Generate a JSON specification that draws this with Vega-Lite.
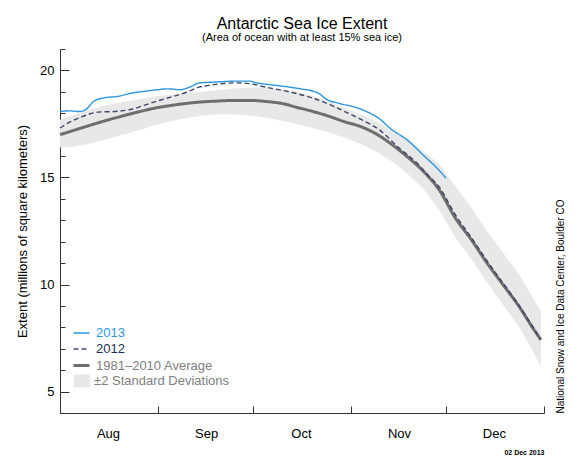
{
  "$schema": "https://vega.github.io/schema/vega-lite/v6.json",
  "width": 484,
  "height": 364,
  "padding": {"left": 16, "top": 15, "right": 5, "bottom": 5},
  "background": "white",
  "config": {
    "view": {"stroke": null},
    "font": "Liberation Sans",
    "axis": {"grid": false}
  },
  "title": {
    "text": "Antarctic Sea Ice Extent",
    "subtitle": "(Area of ocean with at least 15% sea ice)",
    "fontSize": 16,
    "fontWeight": "normal",
    "color": "black",
    "subtitleFontSize": 11,
    "subtitleColor": "black",
    "subtitlePadding": 0,
    "offset": 6,
    "anchor": "middle"
  },
  "datasets": {
    "band": [
      {"date": "2013-08-01", "lo": 16.4, "hi": 17.7},
      {"date": "2013-08-06", "lo": 16.45, "hi": 17.95},
      {"date": "2013-08-11", "lo": 16.6, "hi": 18.2},
      {"date": "2013-08-16", "lo": 16.8, "hi": 18.38},
      {"date": "2013-08-21", "lo": 17.0, "hi": 18.52},
      {"date": "2013-08-26", "lo": 17.2, "hi": 18.65},
      {"date": "2013-08-31", "lo": 17.45, "hi": 18.78},
      {"date": "2013-09-05", "lo": 17.62, "hi": 18.86},
      {"date": "2013-09-10", "lo": 17.78, "hi": 18.93},
      {"date": "2013-09-15", "lo": 17.9, "hi": 19.0},
      {"date": "2013-09-20", "lo": 17.95, "hi": 19.08},
      {"date": "2013-09-25", "lo": 17.95, "hi": 19.15},
      {"date": "2013-09-30", "lo": 17.9, "hi": 19.2},
      {"date": "2013-10-05", "lo": 17.8, "hi": 19.2},
      {"date": "2013-10-10", "lo": 17.65, "hi": 19.12},
      {"date": "2013-10-15", "lo": 17.5, "hi": 19.0},
      {"date": "2013-10-20", "lo": 17.3, "hi": 18.8},
      {"date": "2013-10-25", "lo": 17.1, "hi": 18.55},
      {"date": "2013-10-30", "lo": 16.85, "hi": 18.25},
      {"date": "2013-11-04", "lo": 16.56, "hi": 17.95},
      {"date": "2013-11-09", "lo": 16.2, "hi": 17.6},
      {"date": "2013-11-14", "lo": 15.75, "hi": 17.2},
      {"date": "2013-11-19", "lo": 15.15, "hi": 16.8},
      {"date": "2013-11-24", "lo": 14.45, "hi": 16.2},
      {"date": "2013-11-29", "lo": 13.45, "hi": 15.6},
      {"date": "2013-12-04", "lo": 12.2, "hi": 14.6},
      {"date": "2013-12-09", "lo": 11.2, "hi": 13.6},
      {"date": "2013-12-14", "lo": 10.1, "hi": 12.5},
      {"date": "2013-12-19", "lo": 9.05, "hi": 11.5},
      {"date": "2013-12-24", "lo": 8.05, "hi": 10.5},
      {"date": "2013-12-29", "lo": 6.75, "hi": 9.25},
      {"date": "2013-12-31", "lo": 6.17, "hi": 8.75}
    ],
    "lines": [
      {"date": "2013-08-01", "s": "1981–2010 Average", "v": 17.0},
      {"date": "2013-08-06", "s": "1981–2010 Average", "v": 17.23},
      {"date": "2013-08-11", "s": "1981–2010 Average", "v": 17.46},
      {"date": "2013-08-16", "s": "1981–2010 Average", "v": 17.68},
      {"date": "2013-08-21", "s": "1981–2010 Average", "v": 17.88},
      {"date": "2013-08-26", "s": "1981–2010 Average", "v": 18.07},
      {"date": "2013-08-31", "s": "1981–2010 Average", "v": 18.24},
      {"date": "2013-09-05", "s": "1981–2010 Average", "v": 18.36},
      {"date": "2013-09-10", "s": "1981–2010 Average", "v": 18.46},
      {"date": "2013-09-15", "s": "1981–2010 Average", "v": 18.53},
      {"date": "2013-09-20", "s": "1981–2010 Average", "v": 18.57},
      {"date": "2013-09-25", "s": "1981–2010 Average", "v": 18.6},
      {"date": "2013-09-30", "s": "1981–2010 Average", "v": 18.6},
      {"date": "2013-10-05", "s": "1981–2010 Average", "v": 18.55},
      {"date": "2013-10-10", "s": "1981–2010 Average", "v": 18.46},
      {"date": "2013-10-15", "s": "1981–2010 Average", "v": 18.27},
      {"date": "2013-10-20", "s": "1981–2010 Average", "v": 18.08},
      {"date": "2013-10-25", "s": "1981–2010 Average", "v": 17.86},
      {"date": "2013-10-30", "s": "1981–2010 Average", "v": 17.6},
      {"date": "2013-11-04", "s": "1981–2010 Average", "v": 17.38},
      {"date": "2013-11-09", "s": "1981–2010 Average", "v": 17.03},
      {"date": "2013-11-14", "s": "1981–2010 Average", "v": 16.53},
      {"date": "2013-11-19", "s": "1981–2010 Average", "v": 15.94},
      {"date": "2013-11-24", "s": "1981–2010 Average", "v": 15.27},
      {"date": "2013-11-29", "s": "1981–2010 Average", "v": 14.39},
      {"date": "2013-12-04", "s": "1981–2010 Average", "v": 13.1},
      {"date": "2013-12-09", "s": "1981–2010 Average", "v": 12.1},
      {"date": "2013-12-14", "s": "1981–2010 Average", "v": 11.0},
      {"date": "2013-12-19", "s": "1981–2010 Average", "v": 10.0},
      {"date": "2013-12-24", "s": "1981–2010 Average", "v": 9.0},
      {"date": "2013-12-29", "s": "1981–2010 Average", "v": 7.85},
      {"date": "2013-12-31", "s": "1981–2010 Average", "v": 7.42},
      {"date": "2013-08-01", "s": "2012", "v": 17.31},
      {"date": "2013-08-04", "s": "2012", "v": 17.58},
      {"date": "2013-08-08", "s": "2012", "v": 17.84},
      {"date": "2013-08-13", "s": "2012", "v": 18.05},
      {"date": "2013-08-19", "s": "2012", "v": 18.09},
      {"date": "2013-08-24", "s": "2012", "v": 18.2},
      {"date": "2013-08-29", "s": "2012", "v": 18.44},
      {"date": "2013-09-03", "s": "2012", "v": 18.67},
      {"date": "2013-09-10", "s": "2012", "v": 18.98},
      {"date": "2013-09-14", "s": "2012", "v": 19.22},
      {"date": "2013-09-17", "s": "2012", "v": 19.3},
      {"date": "2013-09-21", "s": "2012", "v": 19.38},
      {"date": "2013-09-26", "s": "2012", "v": 19.42},
      {"date": "2013-09-30", "s": "2012", "v": 19.38},
      {"date": "2013-10-05", "s": "2012", "v": 19.22},
      {"date": "2013-10-13", "s": "2012", "v": 18.98},
      {"date": "2013-10-19", "s": "2012", "v": 18.75},
      {"date": "2013-10-26", "s": "2012", "v": 18.36},
      {"date": "2013-10-29", "s": "2012", "v": 18.15},
      {"date": "2013-11-04", "s": "2012", "v": 17.72},
      {"date": "2013-11-10", "s": "2012", "v": 17.22},
      {"date": "2013-11-16", "s": "2012", "v": 16.4},
      {"date": "2013-11-22", "s": "2012", "v": 15.65},
      {"date": "2013-11-25", "s": "2012", "v": 15.16},
      {"date": "2013-11-29", "s": "2012", "v": 14.53},
      {"date": "2013-12-04", "s": "2012", "v": 13.25},
      {"date": "2013-12-09", "s": "2012", "v": 12.2},
      {"date": "2013-12-14", "s": "2012", "v": 11.1},
      {"date": "2013-12-19", "s": "2012", "v": 10.08},
      {"date": "2013-12-24", "s": "2012", "v": 9.05},
      {"date": "2013-12-29", "s": "2012", "v": 7.9},
      {"date": "2013-12-31", "s": "2012", "v": 7.45},
      {"date": "2013-08-01", "s": "2013", "v": 18.08},
      {"date": "2013-08-04", "s": "2013", "v": 18.11},
      {"date": "2013-08-07", "s": "2013", "v": 18.08},
      {"date": "2013-08-09", "s": "2013", "v": 18.16},
      {"date": "2013-08-12", "s": "2013", "v": 18.59},
      {"date": "2013-08-15", "s": "2013", "v": 18.72},
      {"date": "2013-08-19", "s": "2013", "v": 18.78},
      {"date": "2013-08-24", "s": "2013", "v": 18.95},
      {"date": "2013-08-28", "s": "2013", "v": 19.03},
      {"date": "2013-09-01", "s": "2013", "v": 19.1},
      {"date": "2013-09-04", "s": "2013", "v": 19.14},
      {"date": "2013-09-08", "s": "2013", "v": 19.1},
      {"date": "2013-09-11", "s": "2013", "v": 19.22},
      {"date": "2013-09-14", "s": "2013", "v": 19.41},
      {"date": "2013-09-18", "s": "2013", "v": 19.45},
      {"date": "2013-09-22", "s": "2013", "v": 19.48},
      {"date": "2013-09-26", "s": "2013", "v": 19.5},
      {"date": "2013-09-30", "s": "2013", "v": 19.5},
      {"date": "2013-10-02", "s": "2013", "v": 19.42},
      {"date": "2013-10-06", "s": "2013", "v": 19.34},
      {"date": "2013-10-11", "s": "2013", "v": 19.25},
      {"date": "2013-10-16", "s": "2013", "v": 19.14},
      {"date": "2013-10-20", "s": "2013", "v": 19.03},
      {"date": "2013-10-22", "s": "2013", "v": 18.91},
      {"date": "2013-10-24", "s": "2013", "v": 18.67},
      {"date": "2013-10-28", "s": "2013", "v": 18.47},
      {"date": "2013-11-03", "s": "2013", "v": 18.25},
      {"date": "2013-11-07", "s": "2013", "v": 18.0},
      {"date": "2013-11-10", "s": "2013", "v": 17.74},
      {"date": "2013-11-13", "s": "2013", "v": 17.34},
      {"date": "2013-11-19", "s": "2013", "v": 16.72},
      {"date": "2013-11-24", "s": "2013", "v": 16.02},
      {"date": "2013-11-29", "s": "2013", "v": 15.31},
      {"date": "2013-12-01", "s": "2013", "v": 14.97}
    ]
  },
  "layer": [
    {
      "data": {"name": "band"},
      "mark": {"type": "area", "opacity": 1},
      "encoding": {
        "x": {
          "field": "date",
          "type": "temporal",
          "scale": {
            "type": "utc",
            "domain": [
              {"year": 2013, "month": 8, "date": 1, "utc": true},
              {"year": 2014, "month": 1, "date": 1, "utc": true}
            ]
          },
          "axis": {
            "values": [
              {"year": 2013, "month": 8, "date": 1, "utc": true},
              {"year": 2013, "month": 9, "date": 1, "utc": true},
              {"year": 2013, "month": 10, "date": 1, "utc": true},
              {"year": 2013, "month": 11, "date": 1, "utc": true},
              {"year": 2013, "month": 12, "date": 1, "utc": true},
              {"year": 2014, "month": 1, "date": 1, "utc": true}
            ],
            "labelExpr": "utcmonth(datum.value) === 0 ? '' : utcFormat(datum.value, '%b')",
            "labelOffset": 48,
            "labelFlush": false,
            "labelOverlap": false,
            "labelBound": false,
            "labelFontSize": 13,
            "labelColor": "black",
            "labelPadding": 21,
            "tickSize": -7,
            "tickColor": "#333333",
            "domainColor": "#333333",
            "title": "02 Dec 2013",
            "titleAnchor": "end",
            "titleFontSize": 7,
            "titleFontWeight": "bold",
            "titleColor": "black",
            "titlePadding": 8
          }
        },
        "y": {
          "field": "lo",
          "type": "quantitative",
          "scale": {"domain": [4, 21], "nice": false, "zero": false},
          "axis": {
            "values": [4, 5, 6, 7, 8, 9, 10, 11, 12, 13, 14, 15, 16, 17, 18, 19, 20, 21],
            "labelExpr": "datum.value % 5 === 0 ? datum.label : ''",
            "tickSize": {"condition": {"test": "datum.value % 5 === 0", "value": -9}, "value": -5},
            "tickColor": "#333333",
            "domainColor": "#333333",
            "labelFontSize": 13,
            "labelColor": "black",
            "labelPadding": 15,
            "title": "Extent (millions of square kilometers)",
            "titleFontSize": 13,
            "titleFontWeight": "normal",
            "titleColor": "black",
            "titlePadding": 10
          }
        },
        "y2": {"field": "hi"},
        "fill": {
          "datum": "±2 Standard Deviations",
          "type": "nominal",
          "scale": {"domain": ["±2 Standard Deviations"], "range": ["#e8e8e8"]},
          "legend": {
            "title": null,
            "orient": "none",
            "legendX": 14,
            "legendY": 324,
            "padding": 0,
            "symbolType": "M-1,-0.8125H1V0.8125H-1Z",
            "symbolSize": 256,
            "symbolStrokeWidth": 0,
            "labelFontSize": 13,
            "labelOffset": 4,
            "labelColor": "#808080"
          }
        }
      }
    },
    {
      "data": {"name": "lines"},
      "mark": {"type": "line", "strokeCap": "butt", "interpolate": "monotone"},
      "encoding": {
        "x": {"field": "date", "type": "temporal"},
        "y": {
          "field": "v",
          "type": "quantitative",
          "scale": {"domain": [4, 21], "nice": false, "zero": false},
          "axis": {
            "orient": "right",
            "labels": false,
            "ticks": false,
            "domain": false,
            "title": "National Snow and Ice Data Center, Boulder CO",
            "titleAngle": 270,
            "titleAnchor": "start",
            "titleFontSize": 10,
            "titleFontWeight": "normal",
            "titleColor": "black",
            "titlePadding": 21
          }
        },
        "color": {
          "field": "s",
          "type": "nominal",
          "scale": {
            "domain": ["2013", "2012", "1981–2010 Average"],
            "range": ["#2a95e2", "#3c4868", "#6e6e6e"]
          },
          "legend": {
            "title": null,
            "orient": "none",
            "legendX": 14,
            "legendY": 277,
            "padding": 0,
            "symbolType": "M-1.33,0H1.33",
            "symbolSize": 144,
            "labelFontSize": 13,
            "labelOffset": 7,
            "gridAlign": "all",
            "rowPadding": 1,
            "labelColor": {"expr": "datum.label === '2013' ? '#2a95e2' : datum.label === '2012' ? '#1c2f5c' : '#808080'"}
          }
        },
        "strokeDash": {
          "field": "s",
          "type": "nominal",
          "scale": {
            "domain": ["2013", "2012", "1981–2010 Average"],
            "range": [[1, 0], [5, 3], [1, 0]]
          }
        },
        "strokeWidth": {
          "field": "s",
          "type": "nominal",
          "scale": {
            "type": "ordinal",
            "domain": ["2013", "2012", "1981–2010 Average"],
            "range": [1.4, 1.4, 3]
          }
        }
      }
    }
  ],
  "resolve": {"scale": {"y": "independent"}}
}
